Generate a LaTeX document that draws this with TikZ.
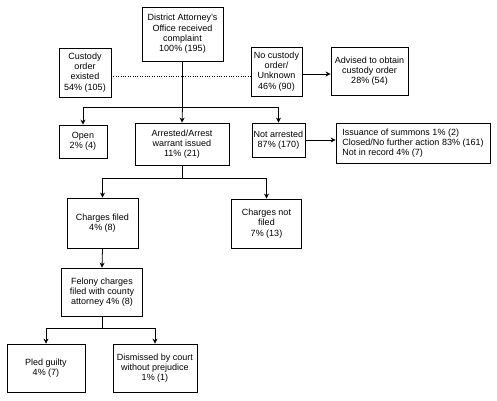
\documentclass[tikz,border=0pt]{standalone}
\usepackage{fontspec}
\setmainfont{Liberation Sans}
\usetikzlibrary{arrows.meta}
\tikzset{
  box/.style={draw, line width=0.8pt, align=center, inner sep=1pt, font=\fontsize{9}{10.3}\selectfont},
  conn/.style={line width=0.8pt},
  arr/.style={line width=0.8pt, -{Stealth[length=5pt,width=5pt]}},
  dotline/.style={line width=0.8pt, dash pattern=on 0.8pt off 1.6pt}
}
\begin{document}
\begin{tikzpicture}[x=1pt,y=-1pt]
\useasboundingbox (0,0) rectangle (497,400);
% nodes (centres in pixel coordinates)
\node[box, minimum width=81pt, minimum height=54pt] (da) at (182.5,34) {District Attorney's\\Office received\\complaint\\100\% (195)};
\node[box, minimum width=52pt, minimum height=49pt] (cust) at (85,72.5) {Custody\\order\\existed\\54\% (105)};
\node[box, minimum width=51pt, minimum height=49pt] (nocust) at (276.5,71.5) {No custody\\order/\\Unknown\\46\% (90)};
\node[box, minimum width=77pt, minimum height=48pt] (adv) at (369.5,71) {Advised to obtain\\custody order\\28\% (54)};
\node[box, minimum width=48pt, minimum height=33pt] (open) at (83,141.5) {Open\\2\% (4)};
\node[box, minimum width=94pt, minimum height=42pt] (arr) at (182,144) {Arrested/Arrest\\warrant issued\\11\% (21)};
\node[box, minimum width=53pt, minimum height=34pt] (notarr) at (278.5,140) {Not arrested\\87\% (170)};
\node[box, minimum width=154pt, minimum height=40pt, align=left] (summ) at (413,143) {Issuance of summons 1\% (2)\\Closed/No further action 83\% (161)\\Not in record 4\% (7)};
\node[box, minimum width=71pt, minimum height=50pt] (cf) at (102.5,223) {Charges filed\\4\% (8)};
\node[box, minimum width=70pt, minimum height=49pt] (cnf) at (266.5,223.5) {Charges not\\filed\\7\% (13)};
\node[box, minimum width=81pt, minimum height=48pt] (fel) at (102,292) {Felony charges\\filed with county\\attorney 4\% (8)};
\node[box, minimum width=78pt, minimum height=48pt] (pg) at (46,368) {Pled guilty\\4\% (7)};
\node[box, minimum width=84pt, minimum height=48pt] (dis) at (155,368) {Dismissed by court\\without prejudice\\1\% (1)};
% branch / connector coordinates
\coordinate (b1) at (182.5,107);
\coordinate (b2) at (182,178);
\coordinate (b3) at (102,328);
\coordinate (dotS) at (111,76);
\coordinate (advS) at (302,74);
% connectors
\draw[dotline] (dotS) -- (nocust.west |- dotS);
\draw[arr] (advS) -- (adv.west |- advS);
\draw[conn] (da.south) -- (b1);
\draw[conn] (open.north |- b1) -- (notarr.north |- b1);
\draw[arr] (open.north |- b1) -- (open.north);
\draw[arr] (b1) -- (arr.north);
\draw[arr] (notarr.north |- b1) -- (notarr.north);
\draw[arr] (notarr.east) -- (summ.west |- notarr.east);
\draw[conn] (arr.south) -- (b2);
\draw[conn] (cf.north |- b2) -- (cnf.north |- b2);
\draw[arr] (cf.north |- b2) -- (cf.north);
\draw[arr] (cnf.north |- b2) -- (cnf.north);
\draw[arr] (cf.south) -- (fel.north);
\draw[conn] (fel.south) -- (b3);
\draw[conn] (pg.north |- b3) -- (dis.north |- b3);
\draw[arr] (pg.north |- b3) -- (pg.north);
\draw[arr] (dis.north |- b3) -- (dis.north);
\end{tikzpicture}
\end{document}
